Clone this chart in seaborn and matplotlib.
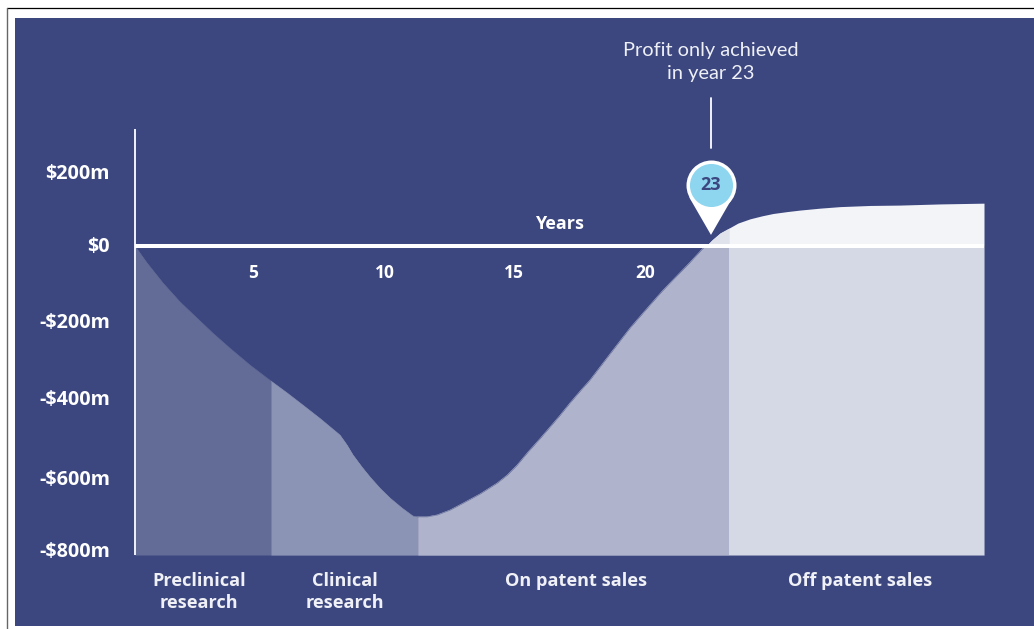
import numpy as np
import pandas as pd
import matplotlib.pyplot as plt
import seaborn as sns
from matplotlib.patches import Rectangle, Polygon
from matplotlib.lines import Line2D

# cumulative cash position
years = [0, 0.46, 1.08, 1.73, 2.38, 3.0, 3.65, 4.42, 5.23, 5.85, 6.46, 7.12, 7.88, 8.15, 8.38,
         8.73, 9.04, 9.42, 9.81, 10.27, 10.69, 10.88, 11.23, 11.62, 12.12, 12.62, 13.27, 13.92,
         14.31, 14.69, 15.12, 15.58, 15.96, 16.35, 16.73, 17.12, 17.5, 18.38, 19.04, 19.69,
         20.27, 20.85, 21.35, 21.85, 21.96, 22.19, 22.5, 22.85, 23.19, 23.65, 24.12, 24.54,
         25.08, 25.58, 26.35, 27.12, 28.27, 29.42, 30.96, 32.65]
cash = [0, -44, -97, -146, -188, -228, -267, -311, -353, -384, -416, -451, -494, -520, -546,
        -578, -604, -633, -659, -685, -706, -708, -708, -703, -690, -672, -648, -620,
        -599, -573, -538, -503, -473, -442, -410, -379, -350, -272, -214, -163,
        -118, -77, -42, -5, 0, 16, 34, 47, 60, 71, 79, 85,
        90, 94, 99, 103, 106, 107, 110, 112]

phase_edges = [0, 5.23, 10.88, 22.85, 32.65]
phase_colors = ['#636b97', '#8b94b5', '#afb3cb', '#d5d8e5']
phase_names = ['Preclinical\nresearch', 'Clinical\nresearch', 'On patent sales', 'Off patent sales']
phase_label_x = [2.46, 8.08, 16.96, 27.88]

xtick_pos = [4.54, 9.6, 14.58, 19.6, 24.85, 30.25]
xtick_labels = ['5', '10', '15', '20', '25', '30']
ytick_pos = [196, 3, -196, -397, -606, -794]
ytick_labels = ['$200m', '$0', '-$200m', '-$400m', '-$600m', '-$800m']

NAVY = '#3c4780'
PROFIT_YEAR = 22.15

sns.set_theme(style='white')
plt.rcParams['font.family'] = ['Open Sans', 'DejaVu Sans']

df = pd.DataFrame({'year': years, 'cash': cash})

fig = plt.figure(figsize=(10.34, 6.29), dpi=100, facecolor='white')

# page frame + navy panel, in pixels
bg = fig.add_axes([0, 0, 1, 1], zorder=-1)
bg.set_xlim(0, 1034)
bg.set_ylim(629, 0)
bg.axis('off')
bg.add_patch(Rectangle((15, 18), 1019, 607.7, color=NAVY, lw=0))
bg.add_line(Line2D([6.5, 1034], [7.5, 7.5], color='black', lw=0.9))
bg.add_line(Line2D([6.5, 6.5], [7.5, 629], color='#666666', lw=1))

ax = fig.add_axes([135 / 1034, 1 - 555 / 629, 849 / 1034, 426 / 629])
ax.patch.set_alpha(0)
ax.set_xlim(0, 32.65)
ax.set_ylim(-807.8, 305.9)

# each phase runs on to the right end, the next one paints over it (no seams)
y_bottom = ax.get_ylim()[0]
for i in range(4):
    part = df[df.year >= phase_edges[i]]
    ax.fill_between(part.year, y_bottom, np.minimum(part.cash, 0), color=phase_colors[i], lw=0)
    if i < 3:
        edge = df[(df.year >= phase_edges[i]) & (df.year <= phase_edges[i + 1]) & (df.cash <= 0)]
        sns.lineplot(data=edge, x='year', y='cash', color=phase_colors[i],
                     lw=0.4, errorbar=None, ax=ax)

above = df[(df.cash >= 0) & (df.year > 1)]
early = above[above.year <= phase_edges[3]]
ax.fill_between(above.year, 0, above.cash, color='#f3f4f8', lw=0)
ax.fill_between(early.year, 0, early.cash, color='#e0e2ec', lw=0)

sns.despine(ax=ax)
ax.spines['bottom'].set_position(('data', 0))
ax.spines['bottom'].set_color('white')
ax.spines['bottom'].set_linewidth(2.9)
ax.spines['bottom'].set_capstyle('butt')
ax.spines['left'].set_color('white')
ax.spines['left'].set_linewidth(1.3)
ax.spines['left'].set_capstyle('butt')

ax.set_xticks(xtick_pos, xtick_labels, fontsize=12.5, fontweight='bold')
ax.set_yticks(ytick_pos, ytick_labels, fontsize=14.2, fontweight='bold', color='white')
ax.tick_params(axis='x', length=0, pad=13.3, colors='white')
ax.tick_params(axis='y', length=0, pad=18)
for lab in ax.get_xticklabels()[4:]:
    lab.set_color(NAVY)
ax.set_xlabel('')
ax.set_ylabel('')

ax.text(16.31, 58, 'Years', color='white', fontsize=13, fontweight='bold', ha='center', va='center')
for name, x in zip(phase_names, phase_label_x):
    ax.text(x, -852, name, color='#f0f1f6', fontsize=13.1, fontweight='bold', ha='center', va='top',
            linespacing=1.3, clip_on=False)

# callout for the break-even year
ax.text(PROFIT_YEAR, 481, 'Profit only achieved\nin year 23', color='#eef0f6', fontsize=14.4, ha='center',
        va='center', linespacing=1.45, clip_on=False, family=['Lato', 'DejaVu Sans'])
ax.plot([PROFIT_YEAR, PROFIT_YEAR], [256, 387], color='white', lw=1.3, clip_on=False, zorder=5)
ax.add_patch(Polygon([[PROFIT_YEAR - 0.833, 127], [PROFIT_YEAR + 0.833, 127], [PROFIT_YEAR, 29]],
                     color='white', lw=0, zorder=5))
ax.scatter([PROFIT_YEAR], [159.5], s=1296, color='white', lw=0, zorder=5)
ax.scatter([PROFIT_YEAR], [159.5], s=961, color='#8ed5ef', lw=0, zorder=6)
ax.text(PROFIT_YEAR, 159.5, '23', color=NAVY, fontsize=13, fontweight='bold', ha='center', va='center', zorder=7)

fig.savefig('out.png', dpi=100, facecolor='white')
